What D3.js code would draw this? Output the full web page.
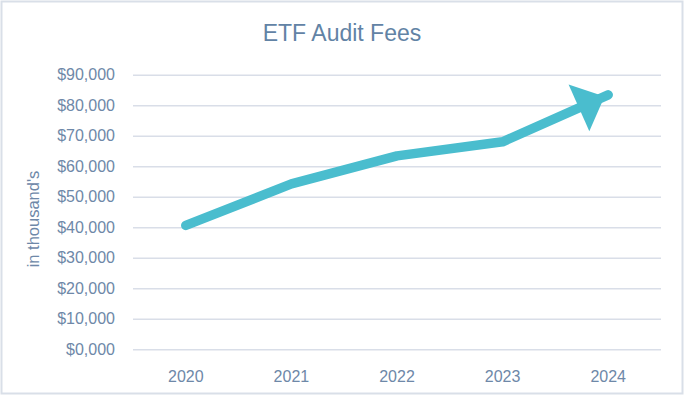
<!DOCTYPE html>
<html>
<head>
<meta charset="utf-8">
<script src="https://cdn.jsdelivr.net/npm/d3@7"></script>
<style>
  body { margin: 0; background: #fff; }
  text { font-family: "Liberation Sans", Arial, sans-serif; }
</style>
</head>
<body>
<div id="chart"></div>
<script>
var years = ["2020", "2021", "2022", "2023", "2024"];
var fees = [40600, 54200, 63400, 68000, 83400];
var yTicks = [0, 10000, 20000, 30000, 40000, 50000, 60000, 70000, 80000, 90000];

var width = 684, height = 396;
var margin = {left: 133, right: 23, top: 74.7, bottom: 46.7};
var textColor = "#6e88a8";
var lineColor = "#4abdce";

var svg = d3.select("#chart")
    .append("svg")
    .attr("width", width)
    .attr("height", height);

// outer border of the chart area
svg.append("rect")
    .attr("x", 1.5).attr("y", 1.5)
    .attr("width", width - 3).attr("height", height - 4)
    .attr("fill", "#fff")
    .attr("stroke", "#d9dfe8")
    .attr("stroke-width", 2);

svg.append("text")
    .attr("x", 342).attr("y", 41)
    .attr("text-anchor", "middle")
    .attr("font-size", 23)
    .attr("fill", "#6283a5")
    .text("ETF Audit Fees");

var xScale = d3.scaleBand()
    .domain(years)
    .range([margin.left, width - margin.right]);

var yScale = d3.scaleLinear()
    .domain([0, 90000])
    .range([height - margin.bottom, margin.top]);

var fmt = function(v) { return v == 0 ? "$0,000" : d3.format("$,")(v); };

// gridlines + y labels
var yAxis = d3.axisLeft(yScale)
    .tickValues(yTicks)
    .tickSize(-(width - margin.left - margin.right))
    .tickPadding(18)
    .tickFormat(fmt);

var gy = svg.append("g")
    .attr("transform", "translate(" + margin.left + ",0)")
    .call(yAxis);
gy.select(".domain").remove();
gy.selectAll(".tick line")
    .attr("stroke", "#d9dee8")
    .attr("stroke-width", 1.5);
gy.selectAll(".tick text")
    .attr("font-size", 16)
    .attr("fill", textColor)
    .style("font-family", "Liberation Sans, Arial, sans-serif");

var xAxis = d3.axisBottom(xScale).tickSize(0).tickPadding(21);
var gx = svg.append("g")
    .attr("transform", "translate(0," + (height - margin.bottom) + ")")
    .call(xAxis);
gx.select(".domain").remove();
gx.selectAll(".tick text")
    .attr("font-size", 16)
    .attr("fill", textColor)
    .style("font-family", "Liberation Sans, Arial, sans-serif");

svg.append("text")
    .attr("transform", "translate(38.5,219) rotate(-90)")
    .attr("text-anchor", "middle")
    .attr("font-size", 16.5)
    .attr("fill", textColor)
    .text("in thousand's");

var pts = years.map(function(y, i) {
    return [xScale(y) + xScale.bandwidth() / 2, yScale(fees[i])];
});

var line = d3.line();
svg.append("path")
    .attr("d", line(pts))
    .attr("fill", "none")
    .attr("stroke", lineColor)
    .attr("stroke-width", 9.5)
    .attr("stroke-linecap", "round")
    .attr("stroke-linejoin", "round");

// arrow head on the last segment
var a = pts[pts.length - 2], b = pts[pts.length - 1];
var dx = b[0] - a[0], dy = b[1] - a[1];
var len = Math.sqrt(dx * dx + dy * dy);
var ux = dx / len, uy = dy / len;
var tip = [b[0] - 4 * ux, b[1] - 4 * uy];
var base = [tip[0] - 28 * ux, tip[1] - 28 * uy];
var hw = 25.5;
svg.append("path")
    .attr("d", "M" + tip + "L" + [base[0] - uy * hw, base[1] + ux * hw] +
               "L" + [base[0] + uy * hw, base[1] - ux * hw] + "Z")
    .attr("fill", lineColor);
</script>
</body>
</html>
